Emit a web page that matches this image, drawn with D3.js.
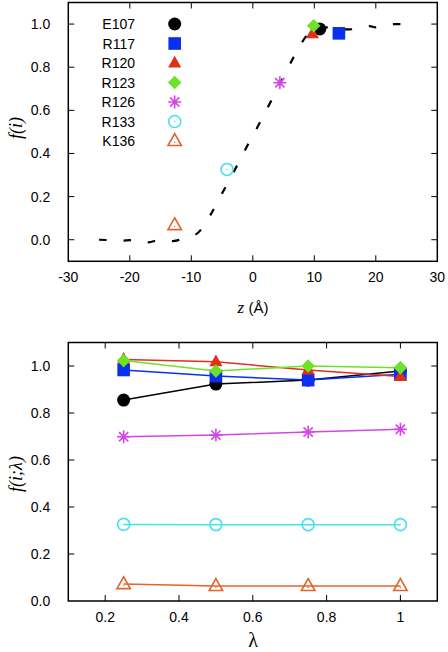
<!DOCTYPE html>
<html><head><meta charset="utf-8">
<script src="https://cdn.jsdelivr.net/npm/d3@7"></script>
<style>body{margin:0;background:#fff}svg{display:block}</style>
</head><body>
<script>
// ---- data ----
const residues = ["E107","R117","R120","R123","R126","R133","K136"];
const colors = ["#000000","#0a2ff0","#e0301a","#6ee226","#d646e6","#48e2ee","#e0642c"];
const symbols = ["circle","square","triangle","diamond","asterisk","opencircle","opentriangle"];
// top panel: position z and fraction f
const zPos = [10.9, 14.0, 9.7, 9.9, 4.4, -4.2, -12.7];
const fPos = [0.977, 0.957, 0.955, 0.992, 0.728, 0.326, 0.068];
// dashed profile
const zCurve = [-25,-23,-21,-19,-17,-15,-13,-11,-10,-9,-7,-5,-3,-1,1,3,5,7,9,11,13,15,17,19,20,21,23,24,24.6];
const fCurve = [0.0,-0.002,-0.004,0.0,-0.012,0.0,-0.006,0.008,0.016,0.03,0.11,0.215,0.32,0.43,0.535,0.645,0.755,0.865,0.955,0.985,0.985,0.975,0.978,0.99,0.985,0.99,1.0,1.0,0.98];
// bottom panel
const lambdas = [0.25, 0.5, 0.75, 1.0];
const fLambda = [
  [0.855, 0.923, 0.940, 0.979],
  [0.983, 0.957, 0.940, 0.965],
  [1.028, 1.018, 0.983, 0.955],
  [1.023, 0.979, 1.000, 0.993],
  [0.699, 0.706, 0.719, 0.731],
  [0.326, 0.325, 0.325, 0.325],
  [0.072, 0.064, 0.064, 0.064]
];
const topXTicks = [-30,-20,-10,0,10,20,30];
const topYTicks = [0.0,0.2,0.4,0.6,0.8,1.0];
const botXTicks = [0.2,0.4,0.6,0.8,1.0];
const botYTicks = [0.0,0.2,0.4,0.6,0.8,1.0];

// ---- drawing ----
const W=448,H=652;
const svg=d3.select("body").append("svg").attr("width",W).attr("height",H);
const font="'Liberation Sans', Arial, Helvetica, sans-serif";

function drawMarker(g, type, x, y, color, s){
  s = s||1;
  if(type==="circle"){
    g.append("circle").attr("cx",x).attr("cy",y).attr("r",6.5*s).attr("fill",color);
  } else if(type==="square"){
    g.append("rect").attr("x",x-6.3*s).attr("y",y-6.3*s).attr("width",12.6*s).attr("height",12.6*s).attr("fill",color);
  } else if(type==="triangle"){
    const r=7.3*s;
    g.append("path").attr("d",`M${x},${y-r}L${x+r*0.9},${y+r*0.62}L${x-r*0.9},${y+r*0.62}Z`).attr("fill",color);
  } else if(type==="diamond"){
    const r=6.8*s;
    g.append("path").attr("d",`M${x},${y-r}L${x+r},${y}L${x},${y+r}L${x-r},${y}Z`).attr("fill",color);
  } else if(type==="asterisk"){
    const r=6.5*s;
    let d="";
    for(let k=0;k<4;k++){const a=k*Math.PI/4;d+=`M${x-r*Math.cos(a)},${y-r*Math.sin(a)}L${x+r*Math.cos(a)},${y+r*Math.sin(a)}`;}
    g.append("path").attr("d",d).attr("stroke",color).attr("stroke-width",1.6).attr("fill","none");
  } else if(type==="opencircle"){
    g.append("circle").attr("cx",x).attr("cy",y).attr("r",6*s).attr("fill","none").attr("stroke",color).attr("stroke-width",1.6);
    g.append("circle").attr("cx",x).attr("cy",y).attr("r",0.7).attr("fill",color);
  } else if(type==="opentriangle"){
    const r=7.3*s;
    g.append("path").attr("d",`M${x},${y-r}L${x+r*0.92},${y+r*0.62}L${x-r*0.92},${y+r*0.62}Z`).attr("fill","none").attr("stroke",color).attr("stroke-width",1.6);
    g.append("circle").attr("cx",x).attr("cy",y+1.5).attr("r",0.7).attr("fill",color);
  }
}

function frame(x, y, xTicks, yTicks, xfmt, yfmt){
  const g=svg.append("g");
  const [x0,x1]=x.range(), [y1,y0]=y.range();
  const tl=6;
  xTicks.forEach(t=>{
    const px=x(t);
    if(px>x0+1 && px<x1-1){
      g.append("line").attr("x1",px).attr("x2",px).attr("y1",y1).attr("y2",y1-tl).attr("stroke","#000").attr("stroke-width",1);
      g.append("line").attr("x1",px).attr("x2",px).attr("y1",y0).attr("y2",y0+tl).attr("stroke","#000").attr("stroke-width",1);
    }
    g.append("text").attr("x",px).attr("y",y1+21).attr("text-anchor","middle")
      .attr("font-family",font).attr("font-size",14).text(xfmt(t));
  });
  yTicks.forEach(t=>{
    const py=y(t);
    if(py>y0+1 && py<y1-1){
      g.append("line").attr("x1",x0).attr("x2",x0+tl).attr("y1",py).attr("y2",py).attr("stroke","#000").attr("stroke-width",1);
      g.append("line").attr("x1",x1).attr("x2",x1-tl).attr("y1",py).attr("y2",py).attr("stroke","#000").attr("stroke-width",1);
    }
    g.append("text").attr("x",x0-18).attr("y",py+5).attr("text-anchor","end")
      .attr("font-family",font).attr("font-size",14).text(yfmt(t));
  });
  g.append("rect").attr("x",x0).attr("y",y0).attr("width",x1-x0).attr("height",y1-y0)
    .attr("fill","none").attr("stroke","#000").attr("stroke-width",1.5);
}

// ---- top panel ----
const xT=d3.scaleLinear().domain([-30,30]).range([68.3,437.3]);
const yT=d3.scaleLinear().domain([-0.1,1.1]).range([261.3,2.5]);
frame(xT,yT,topXTicks,topYTicks,d=>String(d),d=>d3.format(".1f")(d));

const line=d3.line().x((d,i)=>xT(zCurve[i])).y(d=>yT(d)).curve(d3.curveMonotoneX);
svg.append("path").attr("d",line(fCurve)).attr("fill","none").attr("stroke","#000")
  .attr("stroke-width",2.2).attr("stroke-dasharray","7.5,17");

const gT=svg.append("g");
const orderTop=[5,6,4,0,1,2,3];
orderTop.forEach(i=>drawMarker(gT,symbols[i],xT(zPos[i]),yT(fPos[i]),colors[i]));

// legend
residues.forEach((r,i)=>{
  const ly=24+i*19.5;
  svg.append("text").attr("x",135).attr("y",ly+5).attr("text-anchor","end")
    .attr("font-family",font).attr("font-size",14).text(r);
  drawMarker(svg.append("g"),symbols[i],174.7,ly,colors[i]);
});

// axis labels top
svg.append("text").attr("x",253).attr("y",313).attr("text-anchor","middle")
  .attr("font-family",font).attr("font-size",15)
  .html("<tspan font-family=\"'Liberation Serif', serif\" font-style='italic' font-size='17'>z</tspan> (Å)");
svg.append("text").attr("transform","translate(22,128) rotate(-90)").attr("text-anchor","middle")
  .attr("font-family","'Liberation Serif', serif").attr("font-style","italic").attr("font-size",18)
  .text("f(i)");

// ---- bottom panel ----
const xB=d3.scaleLinear().domain([0.1,1.1]).range([68.3,437.3]);
const yB=d3.scaleLinear().domain([0,1.1]).range([601,342.5]);
frame(xB,yB,botXTicks,botYTicks,d=>d===1?"1":d3.format(".1f")(d),d=>d3.format(".1f")(d));

const lineB=d3.line().x((d,i)=>xB(lambdas[i])).y(d=>yB(d));
const gB=svg.append("g");
const orderB=[6,5,4,0,1,2,3];
orderB.forEach(i=>{
  gB.append("path").attr("d",lineB(fLambda[i])).attr("fill","none").attr("stroke",colors[i]).attr("stroke-width",1.5);
});
orderB.forEach(i=>{
  fLambda[i].forEach((v,j)=>drawMarker(gB,symbols[i],xB(lambdas[j]),yB(v),colors[i]));
});

svg.append("text").attr("x",253).attr("y",647).attr("text-anchor","middle")
  .attr("font-family","'Liberation Serif', serif").attr("font-size",20).text("λ");
svg.append("text").attr("transform","translate(22,474) rotate(-90)").attr("text-anchor","middle")
  .attr("font-family","'Liberation Serif', serif").attr("font-style","italic").attr("font-size",18)
  .text("f(i;λ)");
</script>
</body></html>
